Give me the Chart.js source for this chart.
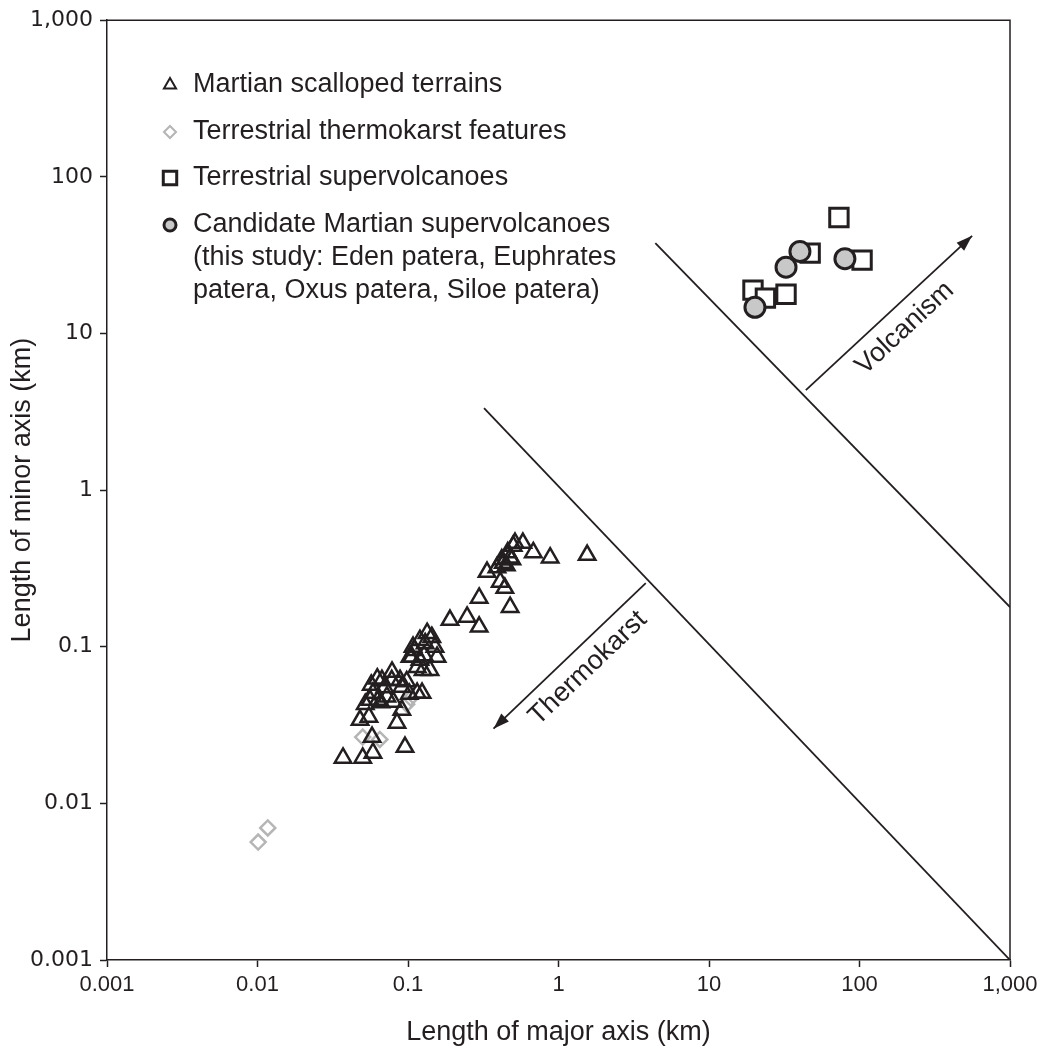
<!DOCTYPE html>
<html>
<head>
<meta charset="utf-8">
<script src="https://cdn.jsdelivr.net/npm/chart.js@4.4.1/dist/chart.umd.min.js"></script>
<style>
  body { margin: 0; background: #fff; overflow: hidden; }
  canvas { display: block; }
</style>
</head>
<body>
<canvas id="grafico" width="1054" height="1049"></canvas>
<script>
// datos (km)
const tickValues = [0.001, 0.01, 0.1, 1, 10, 100, 1000];
const tickLabels = ["0.001", "0.01", "0.1", "1", "10", "100", "1,000"];

const scallopX = [0.037, 0.050, 0.0585, 0.0955, 0.0577, 0.0845, 0.048, 0.055, 0.091,
  0.0585, 0.0671, 0.0783, 0.0885, 0.0724, 0.115, 0.124, 0.056, 0.0632, 0.080, 0.091,
  0.134, 0.144, 0.120, 0.108, 0.106, 0.120, 0.156, 0.126, 0.140, 0.115, 0.151,
  0.190, 0.247, 0.297, 0.297, 0.477, 0.44, 0.41, 0.335, 0.39, 0.43, 0.477, 0.514,
  0.58, 0.68, 0.88, 1.55, 0.46, 0.49,
  0.103, 0.128, 0.070, 0.078, 0.102, 0.066, 0.052, 0.11, 0.13, 0.098, 0.057, 0.0625,
  0.45, 0.50, 0.42];
const scallopY = [0.0195, 0.0195, 0.021, 0.0229, 0.0265, 0.0326, 0.034, 0.0356, 0.0394,
  0.0506, 0.0612, 0.069, 0.0612, 0.048, 0.0506, 0.0506, 0.0457, 0.0457, 0.0444, 0.0554,
  0.122, 0.115, 0.110, 0.0995, 0.086, 0.0822, 0.086, 0.0708, 0.0708, 0.074, 0.0995,
  0.148, 0.155, 0.134, 0.205, 0.179, 0.237, 0.259, 0.30, 0.32, 0.342, 0.37, 0.459,
  0.459, 0.40, 0.37, 0.385, 0.40, 0.36,
  0.086, 0.088, 0.055, 0.061, 0.050, 0.044, 0.043, 0.095, 0.105, 0.060, 0.057, 0.0625,
  0.33, 0.44, 0.36];

const thermoX = [0.0101, 0.0117, 0.050, 0.065, 0.098, 0.104];
const thermoY = [0.00566, 0.00697, 0.0265, 0.0256, 0.043, 0.047];

const superX = [73, 47, 104, 19.6, 23.7, 32.5];
const superY = [55, 32.6, 29.4, 18.9, 16.8, 17.8];

const marsVolcX = [20.2, 32.5, 40.2, 80];
const marsVolcY = [14.7, 26.5, 33.4, 30];

// lineas de limite y flechas
const limThermoX = [0.32, 1000];
const limThermoY = [3.34, 0.001];
const limVolcX = [4.4, 1000];
const limVolcY = [37.8, 0.179];
const flechaVolcX = [44, 560];
const flechaVolcY = [4.35, 42];
const flechaThermoX = [3.8, 0.37];
const flechaThermoY = [0.255, 0.030];
const textoVolc = { x: 200, y: 10.8, text: "Volcanism" };
const textoThermo = { x: 1.57, y: 0.073, text: "Thermokarst" };

const leyenda = [
  ["Martian scalloped terrains"],
  ["Terrestrial thermokarst features"],
  ["Terrestrial supervolcanoes"],
  ["Candidate Martian supervolcanoes", "(this study: Eden patera, Euphrates", "patera, Oxus patera, Siloe patera)"]
];

const NEGRO = "#231f20";
const GRIS = "#b5b5b5";
const FUENTE = "'Liberation Sans', Arial, sans-serif";

const puntos = (xs, ys) => xs.map((x, i) => ({ x: x, y: ys[i] }));

function flecha(ctx, x1, y1, x2, y2) {
  ctx.beginPath();
  ctx.moveTo(x1, y1);
  ctx.lineTo(x2, y2);
  ctx.stroke();
  const a = Math.atan2(y2 - y1, x2 - x1), L = 16, W = 5.5;
  ctx.beginPath();
  ctx.moveTo(x2, y2);
  ctx.lineTo(x2 - L * Math.cos(a) + W * Math.sin(a), y2 - L * Math.sin(a) - W * Math.cos(a));
  ctx.lineTo(x2 - L * Math.cos(a) - W * Math.sin(a), y2 - L * Math.sin(a) + W * Math.cos(a));
  ctx.closePath();
  ctx.fill();
}

const extras = {
  id: "extras",
  afterDatasetsDraw(chart) {
    const ctx = chart.ctx;
    const xs = chart.scales.x, ys = chart.scales.y;
    const a = chart.chartArea;
    ctx.save();
    // marco
    ctx.strokeStyle = NEGRO;
    ctx.lineWidth = 1.5;
    ctx.beginPath();
    ctx.moveTo(a.left, a.top);
    ctx.lineTo(a.right, a.top);
    ctx.lineTo(a.right, a.bottom);
    ctx.stroke();

    // flechas
    ctx.fillStyle = NEGRO;
    ctx.lineWidth = 1.8;
    const fv = [xs.getPixelForValue(flechaVolcX[0]), ys.getPixelForValue(flechaVolcY[0]),
                xs.getPixelForValue(flechaVolcX[1]), ys.getPixelForValue(flechaVolcY[1])];
    const ft = [xs.getPixelForValue(flechaThermoX[0]), ys.getPixelForValue(flechaThermoY[0]),
                xs.getPixelForValue(flechaThermoX[1]), ys.getPixelForValue(flechaThermoY[1])];
    flecha(ctx, fv[0], fv[1], fv[2], fv[3]);
    flecha(ctx, ft[0], ft[1], ft[2], ft[3]);

    // textos girados
    ctx.font = "27px " + FUENTE;
    ctx.textAlign = "center";
    ctx.textBaseline = "middle";
    const angV = Math.atan2(fv[3] - fv[1], fv[2] - fv[0]);
    const angT = Math.atan2(ft[1] - ft[3], ft[0] - ft[2]);
    [[textoVolc, angV], [textoThermo, angT]].forEach(([t, ang]) => {
      ctx.save();
      ctx.translate(xs.getPixelForValue(t.x), ys.getPixelForValue(t.y));
      ctx.rotate(ang);
      ctx.fillText(t.text, 0, 0);
      ctx.restore();
    });

    // leyenda
    const estilos = [
      { pointStyle: "triangle", radius: 7, borderWidth: 2, stroke: NEGRO, fill: "rgba(0,0,0,0)" },
      { pointStyle: "rectRot", radius: 6, borderWidth: 2, stroke: GRIS, fill: "rgba(0,0,0,0)" },
      { pointStyle: "rect", radius: 9.5, borderWidth: 3, stroke: NEGRO, fill: "#fff" },
      { pointStyle: "circle", radius: 6, borderWidth: 3, stroke: NEGRO, fill: "#c8c8c8" }
    ];
    const filas = [85, 132, 178, 225];
    ctx.font = "27px " + FUENTE;
    ctx.textAlign = "left";
    leyenda.forEach((lineas, i) => {
      const e = estilos[i];
      ctx.strokeStyle = e.stroke;
      ctx.fillStyle = e.fill;
      ctx.lineWidth = e.borderWidth;
      Chart.helpers.drawPoint(ctx, { pointStyle: e.pointStyle, radius: e.radius, rotation: 0, borderWidth: e.borderWidth }, 170, filas[i]);
      ctx.fillStyle = NEGRO;
      lineas.forEach((l, j) => ctx.fillText(l, 193, filas[i] + j * 33));
    });
    ctx.restore();
  }
};

new Chart(document.getElementById("grafico"), {
  type: "scatter",
  data: {
    datasets: [
      {
        label: leyenda[3].join(" "),
        data: puntos(marsVolcX, marsVolcY),
        pointStyle: "circle", pointRadius: 10,
        borderColor: NEGRO, borderWidth: 3, backgroundColor: "#c8c8c8"
      },
      {
        label: leyenda[2][0],
        data: puntos(superX, superY),
        pointStyle: "rect", pointRadius: 13,
        borderColor: NEGRO, borderWidth: 3, backgroundColor: "#ffffff"
      },
      {
        label: leyenda[0][0],
        data: puntos(scallopX, scallopY),
        pointStyle: "triangle", pointRadius: 9.5,
        borderColor: NEGRO, borderWidth: 2.5, backgroundColor: "rgba(0,0,0,0)"
      },
      {
        label: leyenda[1][0],
        data: puntos(thermoX, thermoY),
        pointStyle: "rectRot", pointRadius: 7.5,
        borderColor: GRIS, borderWidth: 2.5, backgroundColor: "rgba(0,0,0,0)"
      },
      {
        label: "limite thermokarst",
        data: puntos(limThermoX, limThermoY),
        showLine: true, pointRadius: 0, borderColor: NEGRO, borderWidth: 1.8
      },
      {
        label: "limite volcanismo",
        data: puntos(limVolcX, limVolcY),
        showLine: true, pointRadius: 0, borderColor: NEGRO, borderWidth: 1.8
      }
    ]
  },
  options: {
    responsive: false,
    devicePixelRatio: 1,
    animation: false,
    layout: { padding: { top: 20, right: 44, left: 0, bottom: 0 } },
    plugins: { legend: { display: false }, tooltip: { enabled: false } },
    scales: {
      x: {
        type: "logarithmic",
        min: 0.001, max: 1000,
        afterBuildTicks: s => { s.ticks = tickValues.map(v => ({ value: v })); },
        afterFit: s => { s.height = 89; },
        grid: { display: true, drawOnChartArea: false, tickLength: 7, tickColor: NEGRO, tickWidth: 1.5 },
        border: { display: true, color: NEGRO, width: 1.5 },
        ticks: {
          autoSkip: false, maxRotation: 0, padding: 5, color: NEGRO,
          font: { family: FUENTE, size: 22 },
          callback: (v) => tickLabels[tickValues.indexOf(v)] ?? ""
        },
        title: {
          display: true, text: "Length of major axis (km)", color: NEGRO,
          font: { family: FUENTE, size: 27 },
          padding: { top: 0, bottom: 0 }
        }
      },
      y: {
        type: "logarithmic",
        min: 0.001, max: 1000,
        afterBuildTicks: s => { s.ticks = tickValues.map(v => ({ value: v })); },
        afterFit: s => { s.width = 107; },
        grid: { display: true, drawOnChartArea: false, tickLength: 7, tickColor: NEGRO, tickWidth: 1.5 },
        border: { display: true, color: NEGRO, width: 1.5 },
        ticks: {
          autoSkip: false, padding: 7, color: NEGRO,
          font: { family: "'DejaVu Sans', " + FUENTE, size: 22 },
          callback: (v) => tickLabels[tickValues.indexOf(v)] ?? ""
        },
        title: {
          display: true, text: "Length of minor axis (km)", color: NEGRO,
          font: { family: FUENTE, size: 27 },
          padding: { top: 6, bottom: 0 }
        }
      }
    }
  },
  plugins: [extras]
});
</script>
</body>
</html>
